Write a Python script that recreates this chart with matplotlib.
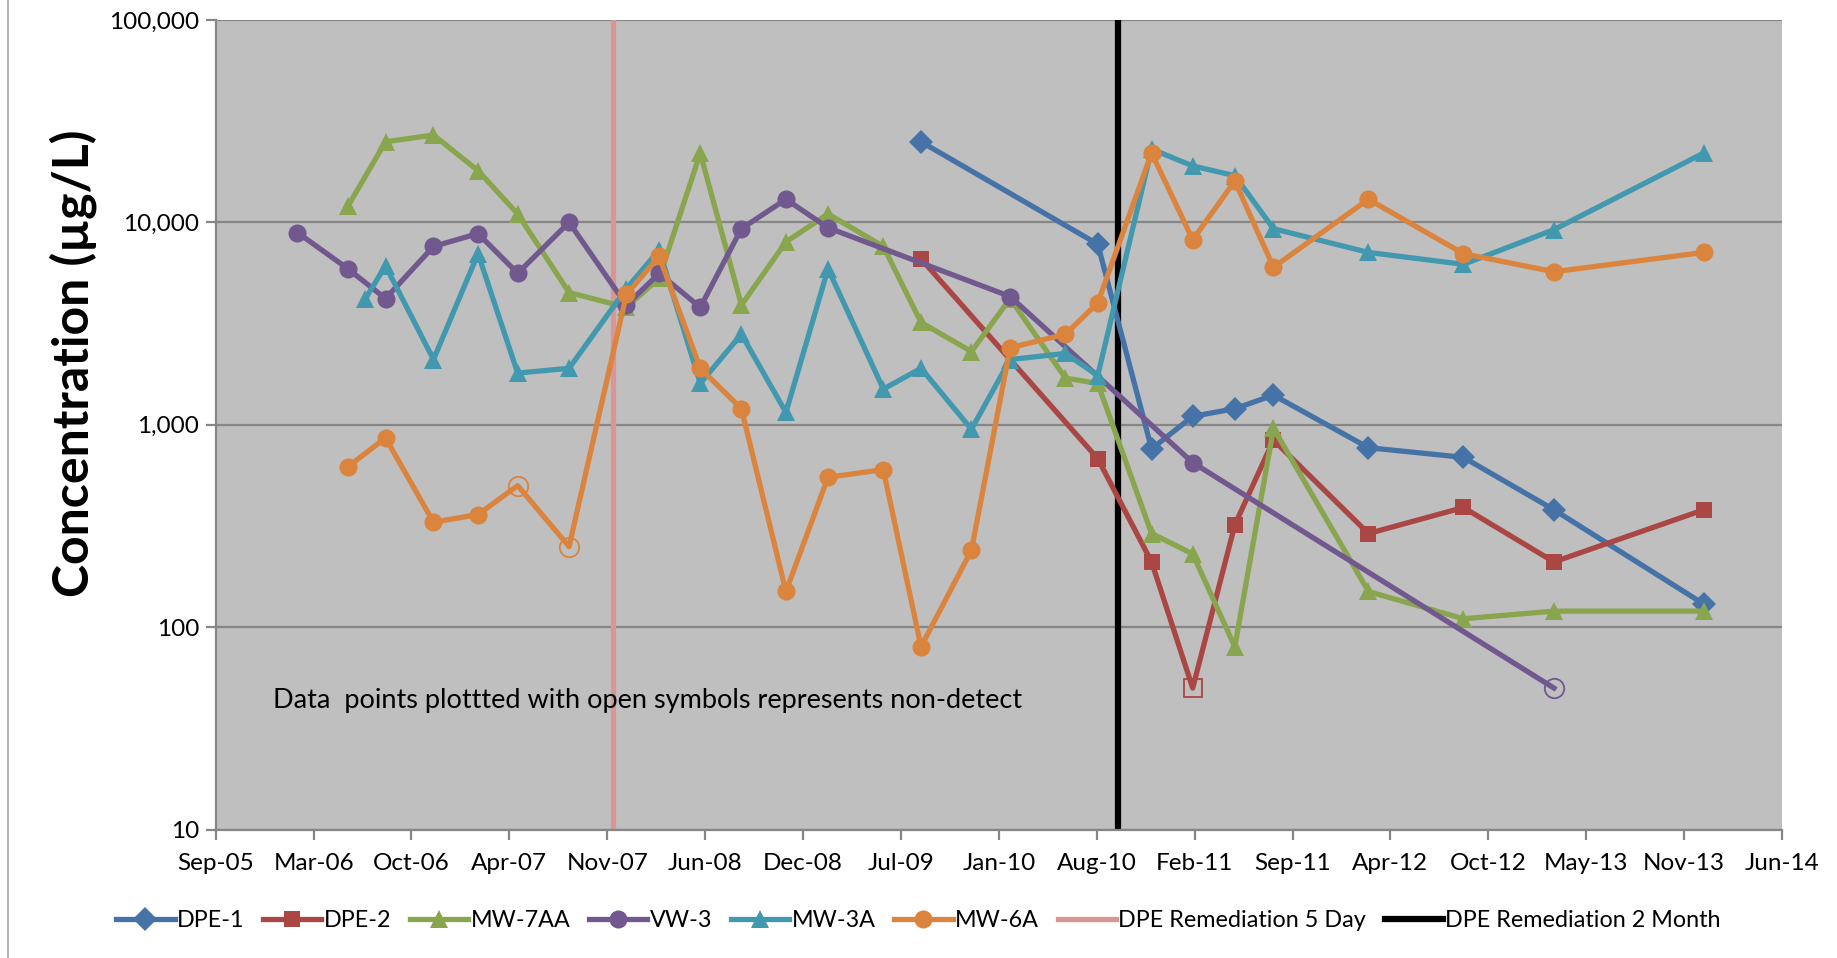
import numpy as np
import pandas as pd
import matplotlib
matplotlib.use('Agg')
import matplotlib.pyplot as plt
import matplotlib.dates as mdates
from matplotlib.ticker import FuncFormatter, NullLocator, FixedLocator
from matplotlib.lines import Line2D

plt.rcParams['font.family'] = ['Lato', 'DejaVu Sans']

# sampling dates
dpe_dates = ['2009-08-16', '2010-08-12', '2010-11-30', '2011-02-22', '2011-05-19',
             '2011-08-06', '2012-02-16', '2012-08-28', '2013-03-01', '2014-01-01']
dpe1 = [25000, 7800, 760, 1100, 1200, 1400, 770, 690, 380, 130]
dpe1_nd = []
dpe2 = [6600, 680, 210, 50, 320, 840, 290, 390, 210, 380]
dpe2_nd = [3]

mw_dates = ['2006-06-02', '2006-08-18', '2006-11-24', '2007-02-23', '2007-05-15',
            '2007-08-28', '2007-12-23', '2008-02-28', '2008-05-22', '2008-08-14',
            '2008-11-13', '2009-02-07', '2009-05-31', '2009-08-16', '2009-11-27',
            '2010-02-14', '2010-06-07', '2010-08-12', '2010-11-30', '2011-02-22',
            '2011-05-19', '2011-08-06', '2012-02-16', '2012-08-28', '2013-03-01',
            '2014-01-01']
mw7aa = [12000, 25000, 27000, 18000, 11000, 4500, 3800, 5300, 22000, 3900,
         8000, 11000, 7600, 3200, 2300, 4200, 1700, 1600, 290, 230,
         80, 960, 150, 110, 120, 120]
mw7aa_nd = []

vw3_dates = ['2006-02-19', '2006-06-02', '2006-08-18', '2006-11-24', '2007-02-23',
             '2007-05-15', '2007-08-28', '2007-12-23', '2008-02-28', '2008-05-22',
             '2008-08-14', '2008-11-13', '2009-02-07', '2010-02-14', '2011-02-22',
             '2013-03-01']
vw3 = [8900, 5900, 4200, 7600, 8800, 5600, 10000, 3900, 5600, 3800,
       9300, 13000, 9400, 4300, 650, 50]
vw3_nd = [15]

mw3a_dates = ['2006-07-08'] + mw_dates[1:]
mw3a = [4200, 6100, 2100, 7000, 1800, 1900, 4700, 7300, 1600, 2800,
        1150, 5900, 1500, 1900, 950, 2100, 2250, 1750, 23000, 19000,
        17000, 9300, 7100, 6200, 9200, 22000]
mw3a_nd = []

mw6a = [620, 860, 330, 360, 500, 250, 4400, 6800, 1900, 1200,
        150, 550, 600, 80, 240, 2400, 2800, 4000, 22000, 8200,
        16000, 6000, 13000, 7000, 5700, 7100]
mw6a_nd = [4, 5]

dpe_5day = '2007-11-25'
dpe_2month = '2010-09-22'

series = [
    ('DPE-1', dpe_dates, dpe1, dpe1_nd, '#4572A7', 'D', 12),
    ('DPE-2', dpe_dates, dpe2, dpe2_nd, '#AA4643', 's', 12),
    ('MW-7AA', mw_dates, mw7aa, mw7aa_nd, '#89A54E', '^', 13.5),
    ('VW-3', vw3_dates, vw3, vw3_nd, '#71588F', 'o', 13),
    ('MW-3A', mw3a_dates, mw3a, mw3a_nd, '#4198AF', '^', 13.5),
    ('MW-6A', mw_dates, mw6a, mw6a_nd, '#DB843D', 'o', 13),
]

fig = plt.figure(figsize=(18.37, 9.58), dpi=100)
ax = fig.add_axes([0.1174, 0.1341, 0.8527, 0.8451])
ax.set_facecolor('#BFBFBF')

handles = []
for name, d, v, nd, col, mk, ms in series:
    d = pd.to_datetime(d)
    keep = [i for i in range(len(v)) if i not in nd]
    h, = ax.plot(d, v, color=col, lw=3.8, marker=mk, ms=ms, markevery=keep,
                 markeredgewidth=0, label=name, zorder=3)
    if nd:
        ax.plot(d[nd], np.array(v)[nd], ls='none', marker=mk, ms=ms + 1,
                mfc='none', mec=col, mew=1.3, zorder=4)
    handles.append(h)

h5 = ax.axvline(pd.Timestamp(dpe_5day), color='#D99694', lw=3.8, zorder=2,
                label='DPE Remediation 5 Day')
h2 = ax.axvline(pd.Timestamp(dpe_2month), color='black', lw=4.5, zorder=2,
                label='DPE Remediation 2 Month')
handles += [h5, h2]

ax.set_yscale('log')
ax.set_ylim(10, 100000)
ax.yaxis.set_major_locator(FixedLocator([10, 100, 1000, 10000, 100000]))
ax.yaxis.set_minor_locator(NullLocator())
ax.yaxis.set_major_formatter(FuncFormatter(lambda v, p: f'{v:,.0f}'))

start = pd.Timestamp('2005-09-05')
xt = [start + pd.Timedelta(days=200 * i) for i in range(17)]
ax.set_xlim(xt[0], xt[-1])
ax.set_xticks(xt)
ax.xaxis.set_major_formatter(mdates.DateFormatter('%b-%y'))
ax.xaxis.set_minor_locator(NullLocator())

ax.yaxis.grid(True, color='#868686', lw=1.6, zorder=1)
ax.set_axisbelow(True)
for s in ['top', 'right']:
    ax.spines[s].set_visible(False)
for s in ['left', 'bottom']:
    ax.spines[s].set_color('#868686')
    ax.spines[s].set_linewidth(1.6)
ax.tick_params(axis='both', colors='#868686', length=7, width=1.6,
               labelcolor='black', labelsize=17.5)
ax.tick_params(axis='x', pad=10)
ax.tick_params(axis='y', pad=5)

ax.set_ylabel('Concentration (µg/L)', fontsize=36, fontweight='bold')
ax.yaxis.set_label_coords(-0.076, 0.576)

ax.text(0.0366, 0.159, 'Data  points plottted with open symbols represents non-detect',
        transform=ax.transAxes, fontsize=19.5, va='center', ha='left')

fig.legend(handles=handles, labels=[h.get_label() for h in handles],
           loc='center', bbox_to_anchor=(0.5, 0.039), ncol=8, frameon=False,
           fontsize=16.8, handlelength=2.5, columnspacing=0.8, handletextpad=0.1)

fig.add_artist(Line2D([8 / 1837, 8 / 1837], [0, 1], color='#A6A6A6', lw=1.2))

fig.savefig('out.png', dpi=100)
